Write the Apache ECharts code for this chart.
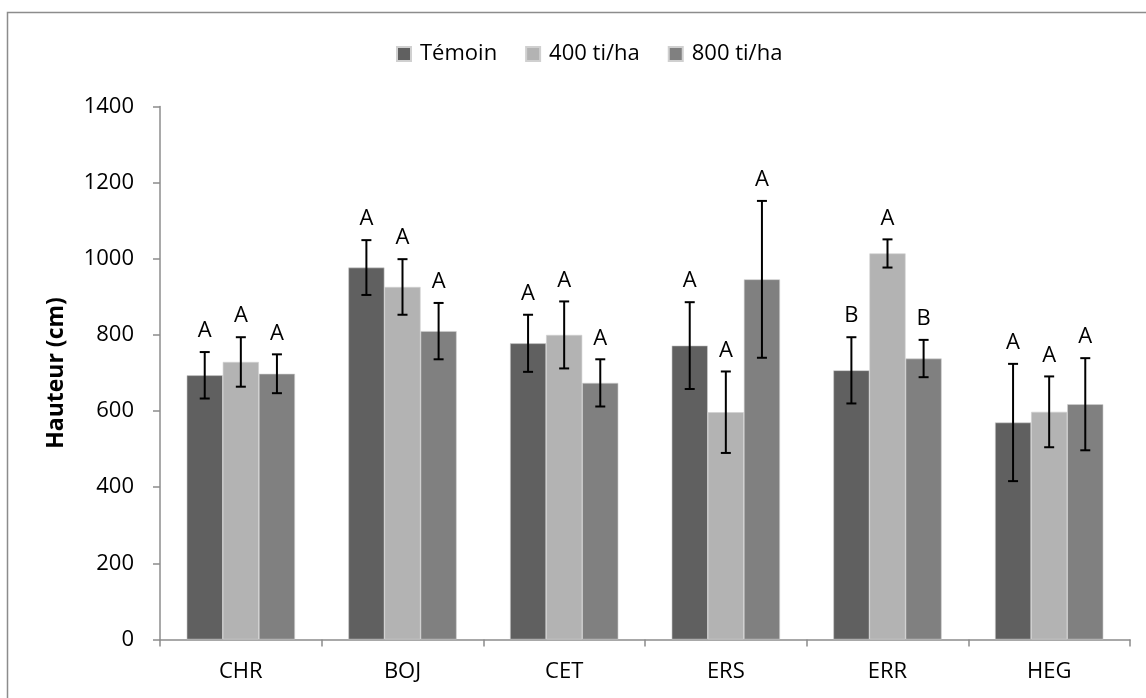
<!DOCTYPE html>
<html><head><meta charset="utf-8">
<script src="https://cdn.jsdelivr.net/npm/echarts@6/dist/echarts.min.js"></script>
<style>html,body{margin:0;padding:0;background:#fff}#c{width:1146px;height:698px}</style>
</head><body><div id="c"></div>
<script>
const categories = ['CHR','BOJ','CET','ERS','ERR','HEG'];
const seriesNames = ['Témoin','400 ti/ha','800 ti/ha'];
const temoin = [694, 977, 778, 772, 707, 570];
const t400 = [729, 926, 800, 597, 1014, 598];
const t800 = [698, 810, 674, 946, 738, 618];
const errTemoin = [61, 72, 75, 114, 87, 154];
const err400 = [65, 73, 88, 107, 37, 93];
const err800 = [51, 74, 62, 206, 49, 121];
const lettersTemoin = ['A','A','A','A','B','A'];
const letters400 = ['A','A','A','A','A','A'];
const letters800 = ['A','A','A','A','B','A'];
const yTicks = [0,200,400,600,800,1000,1200,1400];

const colors = ['#606060','#b3b3b3','#808080'];
const FONT = '"Open Sans", "Liberation Sans", sans-serif';
const gapFrac = 0.33;

const values = [temoin, t400, t800];
const errs = [errTemoin, err400, err800];
const letters = [lettersTemoin, letters400, letters800];

function errSeries(k){
  return {
    type:'custom', name:'err'+k, z:10,
    data: categories.map((c,i)=>[i, values[k][i], errs[k][i]]),
    renderItem: function(params, api){
      const ci = api.value(0), v = api.value(1), e = api.value(2);
      const catW = api.size([1,0])[0];
      const bw = catW*(1-gapFrac)/3;
      const c = api.coord([ci, v]);
      const x = c[0] + (k-1)*bw;
      const top = api.coord([ci, v+e])[1];
      const bot = api.coord([ci, v-e])[1];
      const cap = 5;
      const st = {stroke:'#000', lineWidth:2};
      return {type:'group', children:[
        {type:'line', shape:{x1:x,y1:top,x2:x,y2:bot}, style:st},
        {type:'line', shape:{x1:x-cap,y1:top,x2:x+cap,y2:top}, style:st},
        {type:'line', shape:{x1:x-cap,y1:bot,x2:x+cap,y2:bot}, style:st},
        {type:'text', x:x, y:top-10, style:{text:letters[k][params.dataIndex], fill:'#000', font:'22px '+FONT, textAlign:'center', textVerticalAlign:'bottom'}}
      ]};
    }
  };
}

const chart = echarts.init(document.getElementById('c'), null, {renderer:'canvas'});
chart.setOption({
  animation:false,
  color: colors,
  graphic:[{type:'rect', shape:{x:7.5,y:12.5,width:1300,height:800}, style:{fill:'none', stroke:'#8c8c8c', lineWidth:1.5}, silent:true}],
  legend:{
    data: seriesNames, top:38, left:391, itemWidth:14, itemHeight:14, itemGap:28,
    icon:'rect',
    textStyle:{fontSize:22, fontFamily:FONT, color:'#000', padding:[0,0,0,4]}
  },
  grid:{left:160, right:16, top:106.5, bottom:58.5},
  xAxis:{
    type:'category', data:categories,
    axisLine:{lineStyle:{color:'#8c8c8c', width:1.5}},
    axisTick:{show:true, length:7, lineStyle:{color:'#8c8c8c', width:1.5}},
    axisLabel:{fontSize:22, fontFamily:FONT, color:'#000', margin:21}
  },
  yAxis:{
    type:'value', min:0, max:1400, interval:200,
    name:'Hauteur (cm)', nameLocation:'middle', nameGap:92, nameRotate:90,
    nameTextStyle:{fontSize:23, fontWeight:'bold', fontFamily:FONT, color:'#000'},
    axisLine:{show:true, lineStyle:{color:'#8c8c8c', width:1.5}},
    axisTick:{show:true, length:7, lineStyle:{color:'#8c8c8c', width:1.5}},
    splitLine:{show:false},
    axisLabel:{fontSize:22, fontFamily:FONT, color:'#000', margin:26,
      formatter: v => yTicks.includes(v) ? String(v) : ''}
  },
  series: seriesNames.map((n,k)=>({
    type:'bar', name:n, data: values[k], barGap:'0%', barCategoryGap:'33%',
    itemStyle:{color:colors[k], borderColor:'#d0d0d0', borderWidth:0.6}
  })).concat([0,1,2].map(errSeries))
});
</script></body></html>
